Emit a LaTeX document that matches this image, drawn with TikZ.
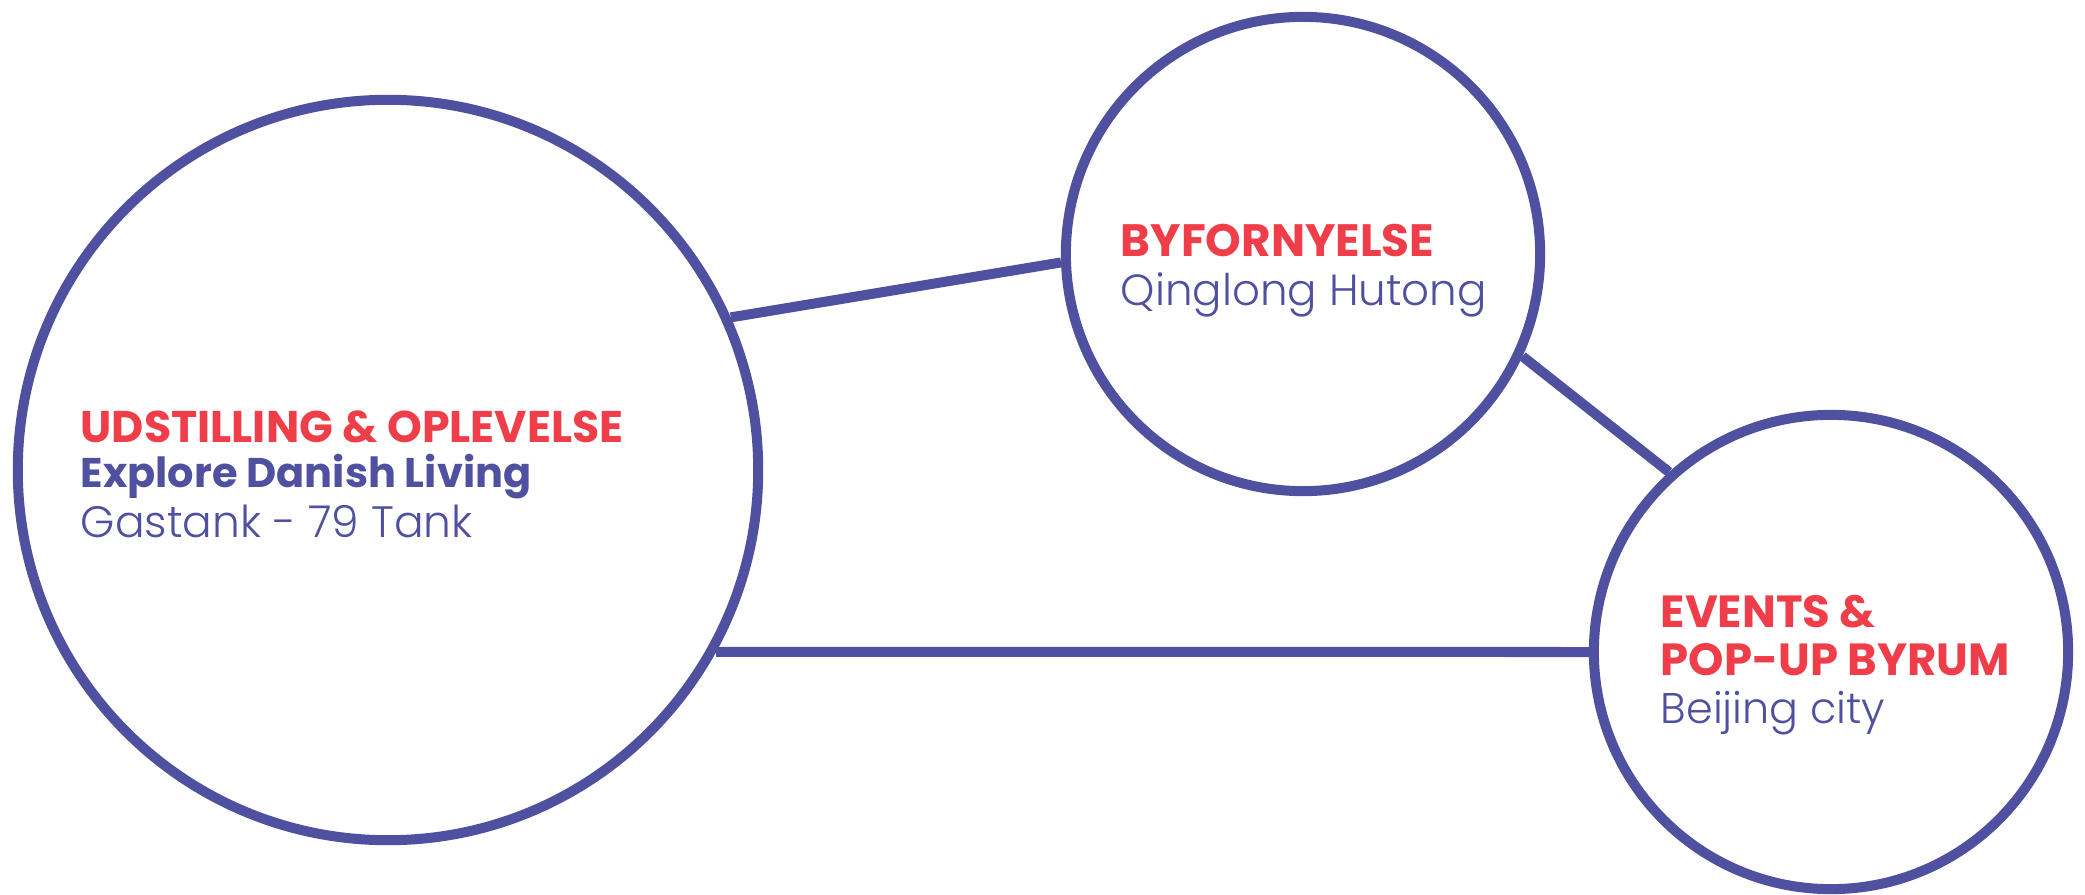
\documentclass[tikz,border=0pt]{standalone}
\usepackage{fontspec}
\setmainfont{Poppins}
\newfontfamily\lightfont{Poppins}[UprightFont=* Light]
\newfontfamily\heavyfont{Poppins}[UprightFont=* Bold]
\definecolor{tagred}{RGB}{239,62,74}
\definecolor{ringblue}{RGB}{80,80,160}

\begin{document}
\begin{tikzpicture}[x=0.01cm, y=-0.01cm,
    ring/.style={circle, draw=ringblue, line width=0.1cm, inner sep=0pt},
    link/.style={draw=ringblue, line width=0.1cm},
    label/.style={anchor=base west, inner sep=0pt},
    tag/.style={label, text=tagred, font=\heavyfont\fontsize{#1}{#1}\selectfont},
    sub/.style={label, text=ringblue, font=\heavyfont\fontsize{#1}{#1}\selectfont},
    place/.style={label, text=ringblue, font=\lightfont\fontsize{#1}{#1}\selectfont}]

    % 画布大小
    \useasboundingbox (0,0) rectangle (2085,894);

    % 绘制三个圆
    \node[ring, minimum size=7.4cm] (big) at (388,470) {};
    \node[ring, minimum size=4.74cm] (hutong) at (1303,254) {};
    \node[ring, minimum size=4.74cm] (city) at (1831,652) {};

    % 绘制连线
    \draw[link] (big.24) -- (hutong.182);
    \draw[link] (hutong.-25) -- (city.132);
    \draw[link] (big.-29.6) -- (city.west);

    % 左圆文字
    \node[tag=12.6] (bigtag) at (80,442) {UDSTILLING \& OPLEVELSE};
    \node[sub=11.8] (bigsub) at (80,487) {Explore Danish Living};
    \node[place=12.5] (bigplace) at (80,537) {Gastank - 79 Tank};

    % 上圆文字
    \node[tag=12.9] (hutongtag) at (1120,257) {BYFORNYELSE};
    \node[place=12.4] (hutongplace) at (1120,305) {Qinglong Hutong};

    % 右圆文字
    \node[tag=12.8] (citytag) at (1660,627) {EVENTS \&};
    \node[tag=12.8] (citytagb) at (1660,675) {POP-UP BYRUM};
    \node[place=12.2] (cityplace) at (1660,723) {Beijing city};
\end{tikzpicture}
\end{document}
